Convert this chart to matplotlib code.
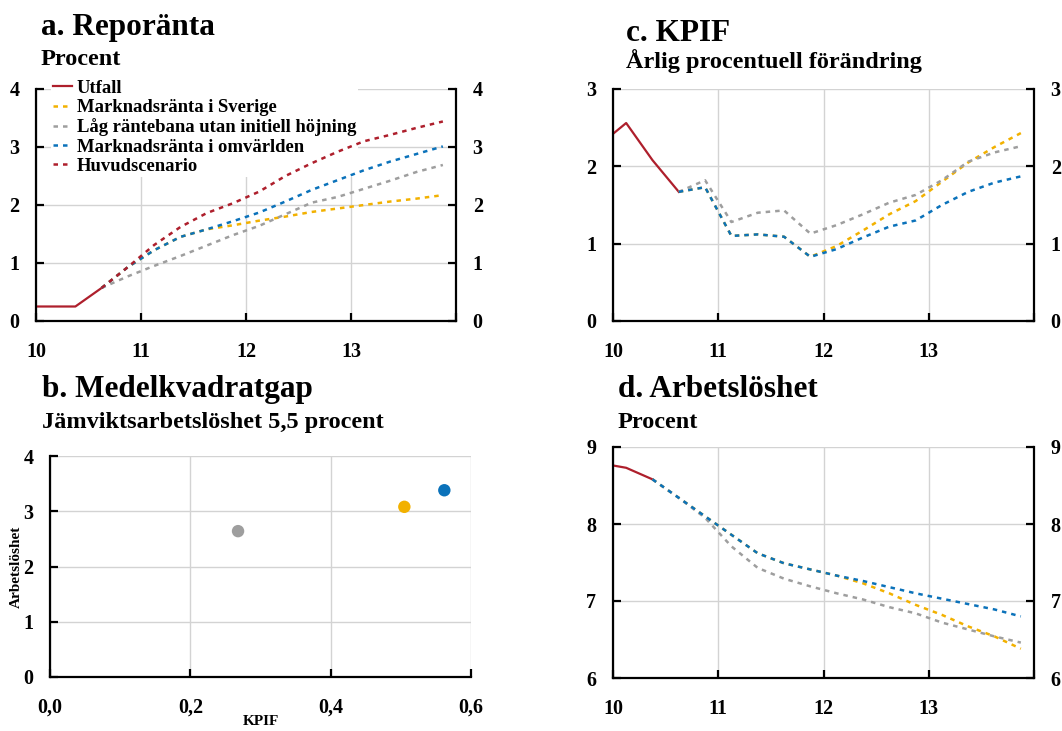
import numpy as np
import matplotlib
matplotlib.use('Agg')
import matplotlib.pyplot as plt

plt.rcParams['font.family'] = ['Liberation Serif', 'DejaVu Serif']
plt.rcParams['font.weight'] = 'bold'
plt.rcParams['axes.labelweight'] = 'bold'

RED = '#AE1F2C'
YELLOW = '#F2B100'
GRAY = '#9E9E9E'
BLUE = '#0B72BA'
GRID = '#D3D3D3'
DASH = (0, (1.8, 2.0))

# kvartal (mitt i kvartalet), 10 = 2010
utfall_x = [9.875, 10.125, 10.375, 10.625]
prog_x = [10.625, 10.875, 11.125, 11.375, 11.625, 11.875, 12.125, 12.375,
          12.625, 12.875, 13.125, 13.375, 13.625, 13.875]

# a. Reporänta
repo_utfall = [0.25, 0.25, 0.25, 0.57]
repo_sverige = [0.57, 0.93, 1.22, 1.45, 1.58, 1.65, 1.73, 1.80, 1.88, 1.94, 2.00, 2.06, 2.11, 2.17]
repo_lag = [0.57, 0.77, 0.95, 1.12, 1.30, 1.48, 1.64, 1.84, 2.04, 2.14, 2.28, 2.42, 2.57, 2.69]
repo_omv = [0.57, 0.93, 1.22, 1.45, 1.58, 1.72, 1.87, 2.06, 2.26, 2.43, 2.60, 2.75, 2.88, 3.01]
repo_huvud = [0.57, 0.93, 1.31, 1.62, 1.86, 2.03, 2.23, 2.50, 2.72, 2.92, 3.10, 3.21, 3.33, 3.44]

# c. KPIF
kpif_utfall = [2.28, 2.56, 2.08, 1.67]
kpif_sverige = [1.67, 1.73, 1.10, 1.12, 1.09, 0.83, 0.97, 1.17, 1.38, 1.55, 1.80, 2.05, 2.25, 2.43]
kpif_lag = [1.67, 1.82, 1.28, 1.40, 1.43, 1.13, 1.24, 1.38, 1.53, 1.63, 1.82, 2.06, 2.18, 2.26]
kpif_omv = [1.67, 1.73, 1.10, 1.12, 1.09, 0.83, 0.93, 1.08, 1.22, 1.30, 1.50, 1.67, 1.79, 1.87]

# d. Arbetslöshet
arb_utfall_x = [9.875, 10.125, 10.375]
arb_prog_x = [10.375] + prog_x
arb_utfall = [8.79, 8.73, 8.58]
arb_sverige = [8.58, 8.34, 8.10, 7.86, 7.62, 7.49, 7.41, 7.33, 7.23, 7.10, 6.95, 6.82, 6.67, 6.54, 6.38]
arb_lag = [8.58, 8.34, 8.08, 7.71, 7.43, 7.29, 7.19, 7.10, 7.02, 6.92, 6.84, 6.72, 6.63, 6.54, 6.46]
arb_omv = [8.58, 8.34, 8.10, 7.86, 7.62, 7.49, 7.41, 7.33, 7.26, 7.18, 7.10, 7.03, 6.96, 6.89, 6.80]

# b. Medelkvadratgap
gap_kpif = [0.268, 0.505, 0.562]
gap_arb = [2.64, 3.08, 3.38]
gap_colors = [GRAY, YELLOW, BLUE]

year_ticks = [10, 11, 12, 13, 14]
year_labels = ['10', '11', '12', '13', '']

fig = plt.figure(figsize=(10.62, 7.31), dpi=100)
W, H = 1062, 731


def add_ax(left, top, right, bottom):
    return fig.add_axes([left / W, 1 - bottom / H, (right - left) / W, (bottom - top) / H])


def style_axes(ax, ylim, yticks, right_labels=True):
    ax.set_ylim(*ylim)
    ax.set_yticks(yticks)
    ax.grid(True, color=GRID, lw=1.0)
    ax.set_axisbelow(True)
    ax.spines['top'].set_visible(False)
    for s in ['left', 'bottom', 'right']:
        ax.spines[s].set_linewidth(1.6)
    ax.tick_params(axis='y', direction='in', length=6, width=1.6, labelsize=14.5,
                   pad=12, right=right_labels, labelright=right_labels)
    ax.tick_params(axis='x', direction='in', length=6, width=1.6, labelsize=14.5, pad=15)


def time_axes(ax, ylim, yticks):
    ax.set_xlim(10, 14)
    ax.set_xticks(year_ticks)
    ax.set_xticklabels(year_labels)
    style_axes(ax, ylim, yticks)


# a
ax_a = add_ax(36, 89, 456, 321)
time_axes(ax_a, (0, 4), [0, 1, 2, 3, 4])
ax_a.plot(utfall_x, repo_utfall, color=RED, lw=1.6, label='Utfall')
ax_a.plot(prog_x, repo_sverige, color=YELLOW, lw=1.8, ls=DASH, label='Marknadsränta i Sverige')
ax_a.plot(prog_x, repo_lag, color=GRAY, lw=1.8, ls=DASH, label='Låg räntebana utan initiell höjning')
ax_a.plot(prog_x, repo_omv, color=BLUE, lw=1.8, ls=DASH, label='Marknadsränta i omvärlden')
ax_a.plot(prog_x, repo_huvud, color=RED, lw=1.8, ls=DASH, label='Huvudscenario')
leg = ax_a.legend(loc='upper left', bbox_to_anchor=(0.035, 1.047), frameon=True, fontsize=13.4,
                  handlelength=1.05, handletextpad=0.25, labelspacing=0.12, borderpad=0.1,
                  borderaxespad=0, fancybox=False)
leg.get_frame().set_edgecolor('none')
leg.get_frame().set_facecolor('white')
leg.get_frame().set_alpha(1)
leg.set_zorder(1)

# c
ax_c = add_ax(613, 89, 1034, 321)
time_axes(ax_c, (0, 3), [0, 1, 2, 3])
ax_c.plot(utfall_x, kpif_utfall, color=RED, lw=1.6)
ax_c.plot(prog_x, kpif_sverige, color=YELLOW, lw=1.8, ls=DASH)
ax_c.plot(prog_x, kpif_lag, color=GRAY, lw=1.8, ls=DASH)
ax_c.plot(prog_x, kpif_omv, color=BLUE, lw=1.8, ls=DASH)

# d
ax_d = add_ax(613, 447, 1034, 678)
time_axes(ax_d, (6, 9), [6, 7, 8, 9])
ax_d.plot(arb_utfall_x, arb_utfall, color=RED, lw=1.6)
ax_d.plot(arb_prog_x, arb_sverige, color=YELLOW, lw=1.8, ls=DASH)
ax_d.plot(arb_prog_x, arb_lag, color=GRAY, lw=1.8, ls=DASH)
ax_d.plot(arb_prog_x, arb_omv, color=BLUE, lw=1.8, ls=DASH)

# b
ax_b = add_ax(50, 456, 471, 677)
ax_b.set_xlim(0, 0.6)
ax_b.set_xticks([0, 0.2, 0.4, 0.6])
ax_b.set_xticklabels(['0,0', '0,2', '0,4', '0,6'])
style_axes(ax_b, (0, 4), [0, 1, 2, 3, 4], right_labels=False)
ax_b.spines['right'].set_visible(False)
ax_b.scatter(gap_kpif, gap_arb, s=80, c=gap_colors, zorder=3, linewidths=0)
ax_b.set_xlabel('KPIF', fontsize=11, fontweight='bold')
ax_b.set_ylabel('Arbetslöshet', fontsize=11, fontweight='bold')
ax_b.xaxis.set_label_coords(0.5, -0.17)
ax_b.yaxis.set_label_coords(-0.064, 0.5)

# titlar
tkw = dict(fontweight='bold', ha='left', va='baseline')
fig.text(41 / W, 1 - 35 / H, 'a. Reporänta', fontsize=22.5, **tkw)
fig.text(41 / W, 1 - 65 / H, 'Procent', fontsize=17.5, **tkw)
fig.text(42 / W, 1 - 397 / H, 'b. Medelkvadratgap', fontsize=22.5, **tkw)
fig.text(42 / W, 1 - 428 / H, 'Jämviktsarbetslöshet 5,5 procent', fontsize=17.5, **tkw)
fig.text(626 / W, 1 - 41 / H, 'c. KPIF', fontsize=22.5, **tkw)
fig.text(626 / W, 1 - 68 / H, 'Årlig procentuell förändring', fontsize=17.5, **tkw)
fig.text(618 / W, 1 - 397 / H, 'd. Arbetslöshet', fontsize=22.5, **tkw)
fig.text(618 / W, 1 - 428 / H, 'Procent', fontsize=17.5, **tkw)

fig.savefig('out.png', dpi=100)
